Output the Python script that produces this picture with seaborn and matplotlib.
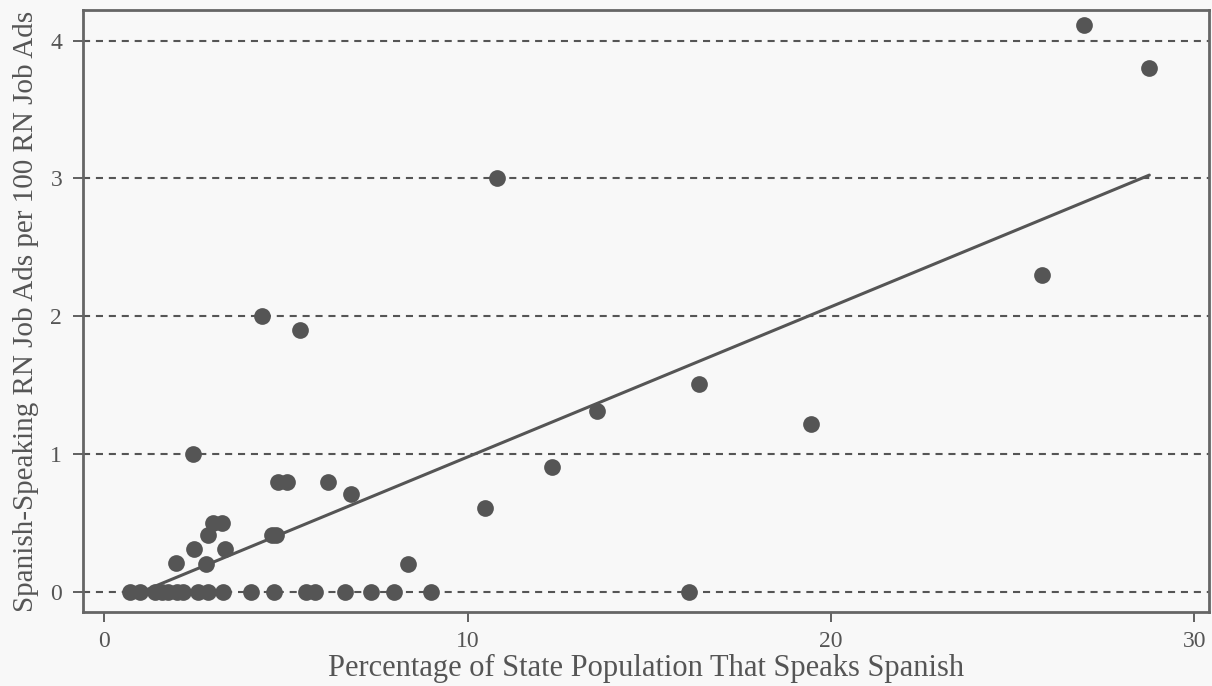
import pandas as pd
import matplotlib.pyplot as plt
import seaborn as sns

# values
pct_spanish = [26.95, 28.76, 10.82, 25.8, 4.34, 5.38, 16.37, 13.57, 19.45, 2.45,
               12.31, 4.79, 5.02, 6.16, 6.78, 10.47, 3.0, 3.25, 2.87, 4.62,
               4.74, 2.47, 3.34, 1.97, 2.80, 8.36,
               0.71, 0.99, 1.40, 1.58, 1.77, 2.0, 2.18, 2.59, 2.87, 3.28,
               4.04, 4.68, 5.55, 5.8, 6.62, 7.35, 7.97, 9.0, 16.1]
ads_per_100 = [4.11, 3.80, 3.0, 2.30, 2.0, 1.90, 1.51, 1.31, 1.22, 1.00,
               0.91, 0.80, 0.80, 0.80, 0.71, 0.61, 0.50, 0.50, 0.41, 0.41,
               0.41, 0.31, 0.31, 0.21, 0.20, 0.20,
               0, 0, 0, 0, 0, 0, 0, 0, 0, 0,
               0, 0, 0, 0, 0, 0, 0, 0, 0]
x_ticks = [0, 10, 20, 30]
y_ticks = [0, 1, 2, 3, 4]

df = pd.DataFrame({'pct': pct_spanish, 'ads': ads_per_100})

sns.set_style('white')
plt.rcParams['font.family'] = ['Liberation Serif', 'DejaVu Serif']
grey = '#555555'

fig = plt.figure(figsize=(12.12, 6.86), dpi=100, facecolor='#f8f8f8')
ax = fig.add_axes([0.0685, 0.108, 0.929, 0.877])
ax.set_facecolor('#f8f8f8')

# dashed reference lines at each y tick
for yv in y_ticks:
    ax.axhline(yv, color=grey, lw=1.5, ls=(0, (3.4, 2.8)), zorder=1)

sns.regplot(data=df, x='pct', y='ads', ax=ax, ci=None, truncate=True,
            scatter_kws={'s': 145, 'color': grey, 'alpha': 1, 'linewidths': 0, 'zorder': 3},
            line_kws={'color': grey, 'lw': 2.2, 'zorder': 2})

ax.set_xlim(-0.58, 30.4)
ax.set_ylim(-0.145, 4.22)
ax.set_xticks(x_ticks)
ax.set_yticks(y_ticks)
ax.tick_params(axis='both', bottom=True, left=True, labelsize=17, colors=grey,
               length=7, width=1.3, direction='out')
ax.tick_params(axis='x', pad=7)
ax.tick_params(axis='y', pad=8)
for s in ax.spines.values():
    s.set_color('#666666')
    s.set_linewidth(2)
ax.set_xlabel('Percentage of State Population That Speaks Spanish', fontsize=22, color=grey, labelpad=1)
ax.set_ylabel('Spanish-Speaking RN Job Ads per 100 RN Job Ads', fontsize=21, color=grey, labelpad=8)

fig.savefig('out.png', dpi=100, facecolor=fig.get_facecolor())
